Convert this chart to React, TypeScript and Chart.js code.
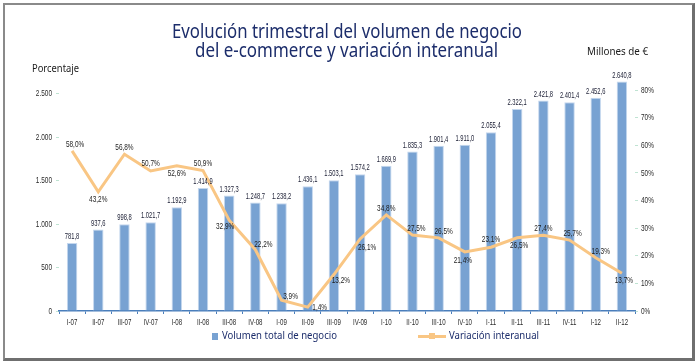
import React, { useEffect, useLayoutEffect, useRef } from "react";
import { Chart, registerables } from "chart.js";
Chart.register(...registerables);

const categories = ["I-07", "II-07", "III-07", "IV-07", "I-08", "II-08", "III-08", "IV-08", "I-09", "II-09", "III-09", "IV-09", "I-10", "II-10", "III-10", "IV-10", "I-11", "II-11", "III-11", "IV-11", "I-12", "II-12"];
const volumen = [781.8, 937.6, 998.8, 1021.7, 1192.9, 1414.9, 1327.3, 1248.7, 1238.2, 1436.1, 1503.1, 1574.2, 1669.9, 1835.3, 1901.4, 1911.0, 2055.4, 2322.1, 2421.8, 2401.4, 2452.6, 2640.8];
const variacion = [58.0, 43.2, 56.8, 50.7, 52.6, 50.9, 32.9, 22.2, 3.9, 1.4, 13.2, 26.1, 34.8, 27.5, 26.5, 21.4, 23.1, 26.5, 27.4, 25.7, 19.3, 13.7];
const leftTickValues = [0, 500, 1000, 1500, 2000, 2500];
const rightTickValues = [0, 10, 20, 30, 40, 50, 60, 70, 80];

const LEFT_MAX = 2680;
const RIGHT_MAX = 84.4;

// style: label offsets (dx, dy) relative to each line point
const lineLabelOffsets: [number, number][] = [
  [3, -7], [0, 8], [0, -7], [0, -8], [0, 8], [0, -7], [-4, 6], [8, -5],
  [9, -4], [12, 0], [7, 6], [7, 8], [0, -7], [4, -7], [5, -6], [-2, 8],
  [0, -8], [2, 8], [0, -7], [3, -7], [5, -6], [2, 7],
];

const CANVAS_FONT = "'Liberation Sans', Arial, sans-serif";
const SANS = "'Noto Sans', 'Open Sans', sans-serif";
const SQUEEZE = 0.68;

function fmtNum(n: number, decimals: number) {
  const s = n.toFixed(decimals);
  const parts = s.split(".");
  const intPart = parts[0].replace(/\B(?=(\d{3})+(?!\d))/g, ".");
  return parts.length > 1 ? intPart + "," + parts[1] : intPart;
}

// draws all canvas text horizontally condensed (narrow-font look)
const condensePlugin = {
  id: "condense",
  beforeDraw(chart: any) {
    const ctx = chart.ctx as any;
    if (ctx.__origFillText) return;
    const orig = ctx.fillText;
    ctx.__origFillText = orig;
    ctx.fillText = function (text: string, x: number, y: number) {
      this.save();
      this.translate(x, y);
      this.scale(SQUEEZE, 1);
      orig.call(this, text, 0, 0);
      this.restore();
    };
  },
  afterDraw(chart: any) {
    const ctx = chart.ctx as any;
    if (ctx.__origFillText) {
      ctx.fillText = ctx.__origFillText;
      delete ctx.__origFillText;
    }
  },
};

const labelPlugin = {
  id: "valueLabels",
  afterDatasetsDraw(chart: any) {
    const ctx = chart.ctx;
    ctx.save();
    ctx.textAlign = "center";
    ctx.font = `8.5px ${CANVAS_FONT}`;
    const barMeta = chart.getDatasetMeta(0);
    ctx.fillStyle = "#1a1d33";
    ctx.textBaseline = "bottom";
    barMeta.data.forEach((el: any, i: number) => {
      ctx.fillText(fmtNum(volumen[i], 1), el.x, el.y - 2);
    });
    const lineMeta = chart.getDatasetMeta(1);
    ctx.font = `9.5px ${CANVAS_FONT}`;
    ctx.textBaseline = "middle";
    ctx.fillStyle = "#1e1e1e";
    lineMeta.data.forEach((el: any, i: number) => {
      const [dx, dy] = lineLabelOffsets[i];
      ctx.fillText(fmtNum(variacion[i], 1) + "%", el.x + dx, el.y + dy);
    });
    ctx.restore();
  },
};

function FitText(props: { text: string; left: number; top: number; width: number; size: number; color: string; weight?: number }) {
  const ref = useRef<HTMLSpanElement>(null);
  useLayoutEffect(() => {
    const el = ref.current;
    if (!el) return;
    el.style.transform = "none";
    const w = el.getBoundingClientRect().width;
    if (w > 0) el.style.transform = `scaleX(${props.width / w})`;
  }, [props.text, props.width]);
  return (
    <span
      ref={ref}
      style={{
        position: "absolute",
        left: props.left,
        top: props.top,
        whiteSpace: "nowrap",
        fontSize: props.size,
        lineHeight: `${props.size}px`,
        color: props.color,
        fontFamily: SANS,
        fontWeight: props.weight ?? 400,
        transformOrigin: "0 0",
      }}
    >
      {props.text}
    </span>
  );
}

export default function App() {
  const canvasRef = useRef<HTMLCanvasElement>(null);

  useEffect(() => {
    if (!canvasRef.current) return;
    const yTickFont = { size: 9.5, family: CANVAS_FONT };
    const xTickFont = { size: 9, family: CANVAS_FONT };
    const chart = new Chart(canvasRef.current, {
      type: "bar",
      data: {
        labels: categories,
        datasets: [
          {
            type: "bar",
            label: "Volumen total de negocio",
            data: volumen,
            yAxisID: "y",
            backgroundColor: "#78A2D2",
            borderColor: "#C4D7EE",
            borderWidth: { left: 1, right: 1, top: 1, bottom: 0 },
            barPercentage: 0.4,
            categoryPercentage: 1,
            order: 2,
          } as any,
          {
            type: "line",
            label: "Variación interanual",
            data: variacion,
            yAxisID: "y1",
            borderColor: "#F9C684",
            borderWidth: 3,
            pointRadius: 0,
            tension: 0,
            order: 1,
          } as any,
        ],
      },
      options: {
        responsive: false,
        animation: false,
        devicePixelRatio: 1,
        layout: { padding: { left: 19, right: 23, top: 78, bottom: 33 } },
        plugins: { legend: { display: false }, tooltip: { enabled: false }, title: { display: false } },
        scales: {
          x: {
            grid: { drawOnChartArea: false, tickLength: 3, color: "#4a7ebb", offset: true },
            border: { color: "#4a7ebb", width: 1.5 },
            ticks: { font: xTickFont, color: "#2a2a2a", padding: 3, autoSkip: false, maxRotation: 0 },
            afterFit(s: any) { s.height = 20; },
          },
          y: {
            position: "left",
            min: 0,
            max: LEFT_MAX,
            afterBuildTicks(s: any) { s.ticks = leftTickValues.map((v) => ({ value: v })); },
            grid: { drawOnChartArea: false, tickLength: 3, color: "#bfe3d2" },
            border: { display: false },
            ticks: { font: yTickFont, color: "#2a2a2a", padding: 4, callback: (v: any) => fmtNum(Number(v), 0) },
            afterFit(s: any) { s.width = 40; },
          },
          y1: {
            position: "right",
            min: 0,
            max: RIGHT_MAX,
            afterBuildTicks(s: any) { s.ticks = rightTickValues.map((v) => ({ value: v })); },
            grid: { drawOnChartArea: false, tickLength: 3, color: "#bfe3d2" },
            border: { display: false },
            ticks: { font: yTickFont, color: "#2a2a2a", padding: 3, callback: (v: any) => `${v}%` },
            afterFit(s: any) { s.width = 40; },
          },
        },
      } as any,
      plugins: [condensePlugin, labelPlugin],
    });
    return () => chart.destroy();
  }, []);

  return (
    <div style={{ position: "fixed", left: 0, top: 0, width: 698, height: 364, background: "#fff", overflow: "hidden" }}>
      <div
        style={{
          position: "absolute",
          left: 3,
          top: 3,
          width: 692,
          height: 358,
          boxSizing: "border-box",
          borderTop: "2px solid #8a8a8a",
          borderLeft: "2px solid #8a8a8a",
          borderRight: "3px solid #6f6f6f",
          borderBottom: "3px solid #6f6f6f",
        }}
      />
      <canvas ref={canvasRef} width={698} height={364} style={{ position: "absolute", left: 0, top: 0, width: 698, height: 364 }} />
      <FitText text="Evolución trimestral del volumen de negocio" left={172} top={22} width={350} size={19} color="#1c2d6b" />
      <FitText text="del e-commerce y variación interanual" left={195} top={41} width={303} size={19} color="#1c2d6b" />
      <FitText text="Porcentaje" left={32} top={62} width={47} size={11} color="#1a1a1a" />
      <FitText text="Millones de €" left={587} top={46} width={61} size={10.5} color="#1a1a1a" />
      <div style={{ position: "absolute", left: 212, top: 333, width: 6, height: 7, background: "#78A2D2" }} />
      <FitText text="Volumen total de negocio" left={222} top={330} width={115} size={10.5} color="#1c2d6b" />
      <div style={{ position: "absolute", left: 418, top: 335, width: 28, height: 2.5, background: "#F9C684" }} />
      <div style={{ position: "absolute", left: 429, top: 333, width: 6, height: 6, background: "#F9C684" }} />
      <FitText text="Variación interanual" left={449} top={330} width={90} size={10.5} color="#1c2d6b" />
    </div>
  );
}
